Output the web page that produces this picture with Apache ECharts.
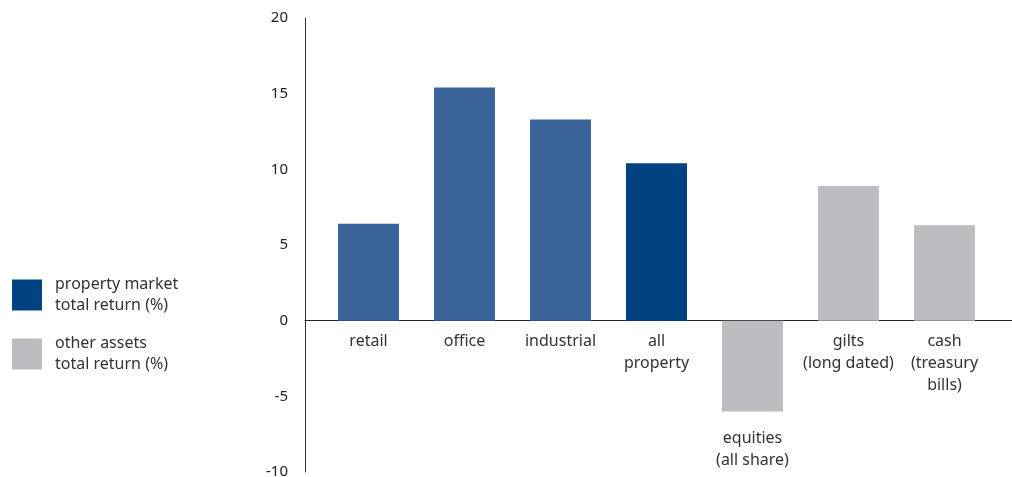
<!DOCTYPE html>
<html>
<head>
<meta charset="utf-8">
<script src="https://cdn.jsdelivr.net/npm/echarts@6/dist/echarts.min.js"></script>
<style>
  html, body { margin: 0; padding: 0; background: #fff; }
  #chart { width: 1012px; height: 477px; }
</style>
</head>
<body>
<div id="chart"></div>
<script>
const categories = ['retail', 'office', 'industrial', 'all\nproperty', 'equities\n(all share)', 'gilts\n(long dated)', 'cash\n(treasury\nbills)'];
const propertyValues = [6.4, 15.4, 13.3, 10.4, null, null, null];
const otherValues = [null, null, null, null, -6.0, 8.9, 6.3];
const seriesNames = ['property market total return (%)', 'other assets total return (%)'];

const sectorBlue = '#3a6399';
const propertyBlue = '#004380';
const grey = '#bcbdc1';
const font = '"Noto Sans", "Open Sans", sans-serif';

const chart = echarts.init(document.getElementById('chart'));

const option = {
  animation: false,
  textStyle: { fontFamily: font },
  legend: {
    orient: 'vertical',
    left: 12,
    top: 274,
    padding: 0,
    itemWidth: 30,
    itemHeight: 31,
    itemGap: 17,
    icon: 'rect',
    formatter: (name) => name.replace(' total', '\ntotal'),
    textStyle: {
      fontFamily: font,
      fontSize: 16,
      color: '#333',
      lineHeight: 21,
      padding: [0, 0, 0, 8]
    },
    data: seriesNames
  },
  grid: [
    { left: 320.5, right: 19.5, top: 18, bottom: 5, outerBoundsMode: 'none', containLabel: false },
    { left: 305, right: 0, top: 18, bottom: 5, outerBoundsMode: 'none', containLabel: false }
  ],
  xAxis: [
    {
      type: 'category',
      data: categories,
      position: 'bottom',
      offset: -151.33,
      axisLine: { show: false, onZero: false },
      axisTick: { show: false },
      axisLabel: {
        interval: 0,
        margin: 10,
        fontSize: 16,
        color: '#333',
        lineHeight: 22,
        fontFamily: font,
        formatter: (v) => v.startsWith('equities') ? '{sp| }\n' + v : v,
        rich: { sp: { height: 97, lineHeight: 97 } }
      }
    },
    {
      type: 'value',
      gridIndex: 1,
      min: 0,
      max: 1,
      axisLine: { show: true, onZero: true, lineStyle: { color: '#222', width: 1 } },
      axisTick: { show: false },
      axisLabel: { show: false },
      splitLine: { show: false }
    }
  ],
  yAxis: [
    {
      type: 'value',
      min: -10,
      max: 20,
      interval: 5,
      offset: 15.5,
      axisLine: { show: true, lineStyle: { color: '#333', width: 1 } },
      axisTick: { show: false },
      splitLine: { show: false },
      axisLabel: { fontSize: 15, color: '#222', margin: 17, fontFamily: font }
    },
    {
      type: 'value',
      gridIndex: 1,
      min: -10,
      max: 20,
      axisLine: { show: false },
      axisTick: { show: false },
      axisLabel: { show: false },
      splitLine: { show: false }
    }
  ],
  series: [
    {
      name: seriesNames[0],
      type: 'bar',
      barWidth: 61,
      barGap: '-100%',
      color: propertyBlue,
      data: propertyValues.map((v, i) => ({
        value: v,
        itemStyle: { color: i < 3 ? sectorBlue : propertyBlue }
      }))
    },
    {
      name: seriesNames[1],
      type: 'bar',
      barWidth: 61,
      barGap: '-100%',
      color: grey,
      data: otherValues
    }
  ]
};

chart.setOption(option);
</script>
</body>
</html>
